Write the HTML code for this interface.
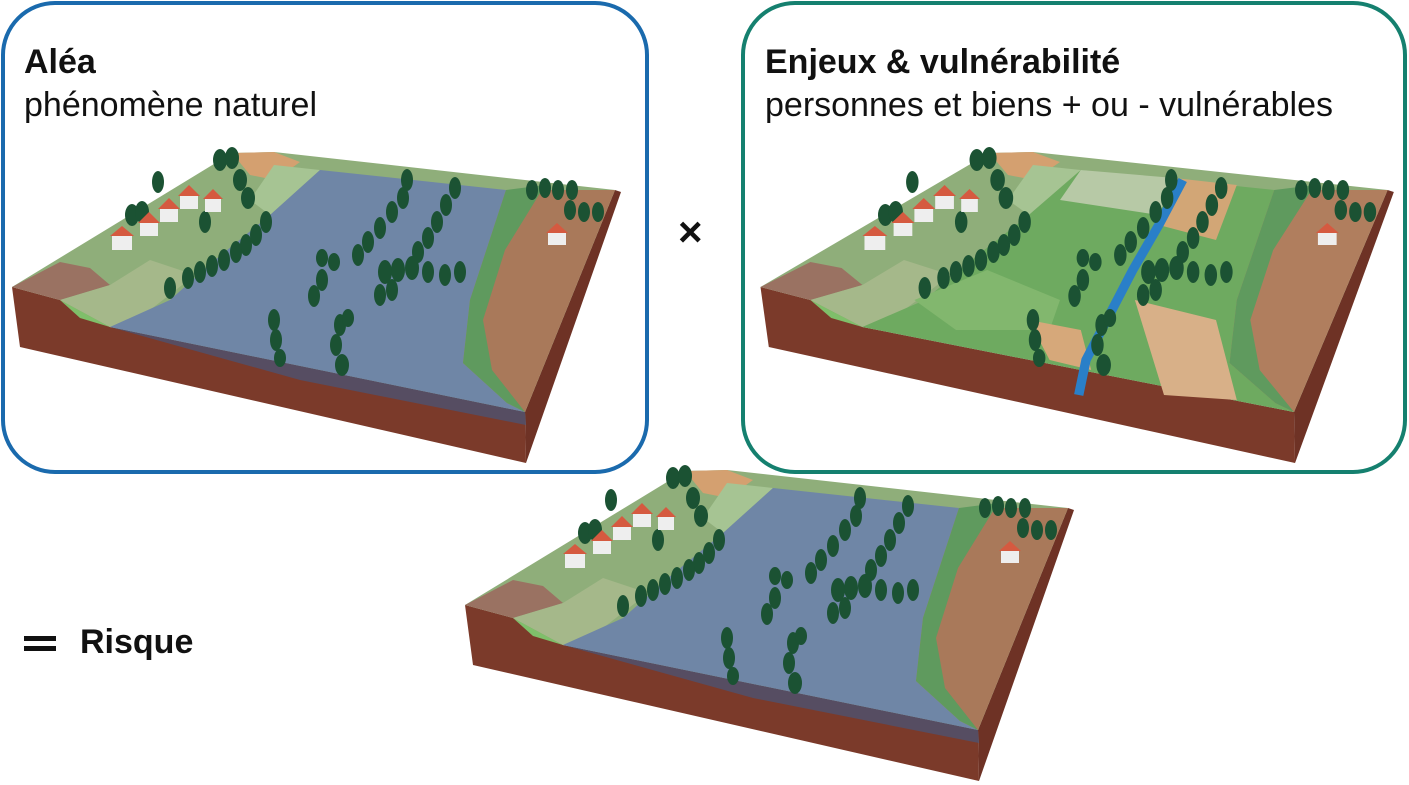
<!DOCTYPE html>
<html><head><meta charset="utf-8"><style>
body{margin:0;background:#fff;width:1409px;height:785px;overflow:hidden;font-family:"Liberation Sans",Arial,sans-serif}
svg{position:absolute;left:0;top:0}
</style></head><body>
<svg width="1409" height="785" viewBox="0 0 1409 785">
<defs>
<g id="blk">
 <polygon points="12,287 60,300 110,327 525,412 526,463 20,347" fill="#7b3a2a"/>
 <polygon points="615,190 621,192 526,463 525,412" fill="#6e3225"/>
 <polygon points="12,287 232,153 274,152 615,190 525,412 110,327 60,300" fill="#8fae7a"/>
 <polygon points="12,287 60,262 90,268 110,285 60,300" fill="#9a7262"/>
 <polygon points="60,300 110,285 150,260 195,275 150,310 110,327" fill="#a5b88a"/>
 <polygon points="60,300 110,327 80,318" fill="#7fbf6a"/>
 <polygon points="232,153 274,152 300,162 275,180 250,175" fill="#d4a070"/>
 <polygon points="274,165 320,170 270,215 250,200" fill="#a6c493"/>
</g>
<g id="water">
 <polygon points="110,327 170,300 215,260 270,215 320,170 506,190 470,300 463,363 507,403 525,412" fill="#6f86a6"/>
 <polygon points="110,327 525,412 526,425 300,380" fill="#3e5a88" opacity=".6"/>
 <polygon points="506,190 615,190 525,412 507,403 463,363 470,300" fill="#a9795a"/>
 <polygon points="506,190 545,185 505,250 483,320 492,370 525,412 507,403 463,363 470,300" fill="#5f9a5e"/>
</g>
<g id="trees" fill="#1b5233">
 <ellipse cx="220" cy="160" rx="7" ry="11"/><ellipse cx="232" cy="158" rx="7" ry="11"/><ellipse cx="240" cy="180" rx="7" ry="11"/><ellipse cx="248" cy="198" rx="7" ry="11"/>
 <ellipse cx="132" cy="215" rx="7" ry="11"/><ellipse cx="142" cy="212" rx="7" ry="11"/><ellipse cx="158" cy="182" rx="6" ry="11"/><ellipse cx="205" cy="222" rx="6" ry="11"/>
 <ellipse cx="266" cy="222" rx="6" ry="11"/><ellipse cx="256" cy="235" rx="6" ry="11"/><ellipse cx="246" cy="245" rx="6" ry="11"/><ellipse cx="236" cy="252" rx="6" ry="11"/><ellipse cx="224" cy="260" rx="6" ry="11"/><ellipse cx="212" cy="266" rx="6" ry="11"/><ellipse cx="200" cy="272" rx="6" ry="11"/><ellipse cx="188" cy="278" rx="6" ry="11"/><ellipse cx="170" cy="288" rx="6" ry="11"/>
 <ellipse cx="407" cy="180" rx="6" ry="11"/><ellipse cx="403" cy="198" rx="6" ry="11"/><ellipse cx="392" cy="212" rx="6" ry="11"/><ellipse cx="380" cy="228" rx="6" ry="11"/><ellipse cx="368" cy="242" rx="6" ry="11"/><ellipse cx="358" cy="255" rx="6" ry="11"/>
 <ellipse cx="322" cy="258" rx="6" ry="9"/><ellipse cx="334" cy="262" rx="6" ry="9"/><ellipse cx="322" cy="280" rx="6" ry="11"/><ellipse cx="314" cy="296" rx="6" ry="11"/>
 <ellipse cx="274" cy="320" rx="6" ry="11"/><ellipse cx="276" cy="340" rx="6" ry="11"/><ellipse cx="280" cy="358" rx="6" ry="9"/>
 <ellipse cx="340" cy="325" rx="6" ry="11"/><ellipse cx="348" cy="318" rx="6" ry="9"/><ellipse cx="336" cy="345" rx="6" ry="11"/><ellipse cx="342" cy="365" rx="7" ry="11"/>
 <ellipse cx="455" cy="188" rx="6" ry="11"/><ellipse cx="446" cy="205" rx="6" ry="11"/><ellipse cx="437" cy="222" rx="6" ry="11"/><ellipse cx="428" cy="238" rx="6" ry="11"/><ellipse cx="418" cy="252" rx="6" ry="11"/>
 <ellipse cx="385" cy="272" rx="7" ry="12"/><ellipse cx="398" cy="270" rx="7" ry="12"/><ellipse cx="412" cy="268" rx="7" ry="12"/><ellipse cx="428" cy="272" rx="6" ry="11"/><ellipse cx="445" cy="275" rx="6" ry="11"/><ellipse cx="460" cy="272" rx="6" ry="11"/><ellipse cx="380" cy="295" rx="6" ry="11"/><ellipse cx="392" cy="290" rx="6" ry="11"/>
 <ellipse cx="532" cy="190" rx="6" ry="10"/><ellipse cx="545" cy="188" rx="6" ry="10"/><ellipse cx="558" cy="190" rx="6" ry="10"/><ellipse cx="572" cy="190" rx="6" ry="10"/>
 <ellipse cx="570" cy="210" rx="6" ry="10"/><ellipse cx="584" cy="212" rx="6" ry="10"/><ellipse cx="598" cy="212" rx="6" ry="10"/>
</g>
<g id="houses">
 <rect x="112" y="235" width="20" height="15" fill="#eee"/><polygon points="110,236 122,226 134,236" fill="#d55a40"/>
 <rect x="140" y="222" width="18" height="14" fill="#eee"/><polygon points="138,223 149,212 160,223" fill="#d55a40"/>
 <rect x="160" y="208" width="18" height="14" fill="#eee"/><polygon points="158,209 169,198 180,209" fill="#d55a40"/>
 <rect x="180" y="195" width="18" height="14" fill="#eee"/><polygon points="178,196 189,185 200,196" fill="#d55a40"/>
 <rect x="205" y="198" width="16" height="14" fill="#eee"/><polygon points="203,199 213,189 223,199" fill="#d55a40"/>
 <rect x="548" y="232" width="18" height="13" fill="#eee"/><polygon points="546,233 557,223 568,233" fill="#d55a40"/>
</g>
</defs>

<rect x="3" y="3" width="644" height="469" rx="52" fill="none" stroke="#1a6aad" stroke-width="4"/>
<rect x="743" y="3" width="662" height="469" rx="52" fill="none" stroke="#15806f" stroke-width="4"/>

<g><use href="#blk"/><use href="#water"/><use href="#trees"/><use href="#houses"/></g>

<g transform="translate(748,0) scale(1.04,1)">
 <use href="#blk"/>
 <polygon points="110,327 170,300 215,260 270,215 320,170 506,190 470,300 463,363 507,403 525,412" fill="#6eaa60"/>
 <polygon points="320,170 410,178 395,215 300,200" fill="#b7c9a6"/>
 <polygon points="410,178 470,185 450,240 395,225" fill="#d2a676"/>
 <polygon points="160,300 230,270 300,300 290,330 200,330" fill="#82b76e"/>
 <polygon points="372,300 450,320 470,400 400,395" fill="#d8b088"/>
 <polygon points="270,320 320,330 330,370 290,360" fill="#d6a87a"/>
 <polygon points="506,190 615,190 525,412 507,403 463,363 470,300" fill="#b07e5e"/>
 <polygon points="506,190 545,185 505,250 483,320 492,370 525,412 507,403 463,363 470,300" fill="#5f9a5e"/>
 <path d="M418,180 L395,225 L370,270 L345,320 L325,360 L318,395" stroke="#2a7fc8" stroke-width="9" fill="none"/>
 <use href="#trees"/><use href="#houses"/>
</g>

<g transform="translate(453,318) scale(1.0,1)"><use href="#blk"/><use href="#water"/><use href="#trees"/><use href="#houses"/></g>

<text x="24" y="73" font-size="34" font-weight="bold" fill="#111">Aléa</text>
<text x="24" y="116" font-size="34" fill="#111">phénomène naturel</text>
<text x="765" y="73" font-size="34" font-weight="bold" fill="#111">Enjeux &amp; vulnérabilité</text>
<text x="765" y="116" font-size="34" fill="#111">personnes et biens + ou - vulnérables</text>
<text x="678" y="246" font-size="42" font-weight="bold" fill="#111">×</text>
<rect x="24" y="636" width="32" height="5" fill="#111"/><rect x="24" y="646" width="32" height="5" fill="#111"/>
<text x="80" y="653" font-size="34" font-weight="bold" fill="#111">Risque</text>
</svg>
</body></html>
